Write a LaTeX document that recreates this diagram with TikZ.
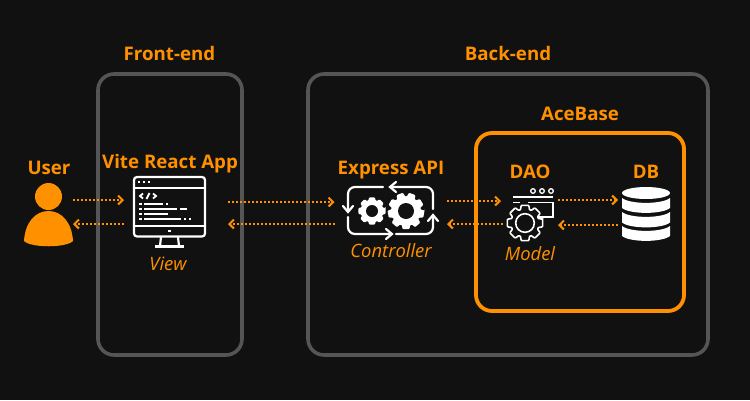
\documentclass[tikz,border=0pt]{standalone}
\usepackage{fontspec}
\setmainfont{Open Sans}
\usetikzlibrary{arrows.meta}
\definecolor{bgc}{HTML}{111111}
\definecolor{org}{HTML}{FF9100}
\definecolor{frm}{HTML}{555555}
\newcommand{\gearpts}[4]{% outer, inner, teeth count, rotation
  ({#4-0.27*360/#3}:#1)
  \foreach \gi in {1,...,#3}{
    -- ({#4+(\gi-1)*360/#3+0.27*360/#3}:#1)
    -- ({#4+(\gi-1)*360/#3+0.42*360/#3}:#2)
    -- ({#4+(\gi-1)*360/#3+0.58*360/#3}:#2)
    -- ({#4+\gi*360/#3-0.27*360/#3}:#1)
  } -- cycle
}
\tikzset{
  x=1pt,y=-1pt,
  frame/.style={draw=frm,line width=3.6pt,rounded corners=16pt},
  ace/.style={draw=org,line width=3.8pt,rounded corners=16pt},
  title/.style={text=org,font=\fontsize{18.7}{22}\selectfont\bfseries,inner sep=0pt},
  role/.style={text=org,font=\fontsize{18.4}{22}\selectfont\itshape,inner sep=0pt},
  icon/.style={inner sep=0pt,outer sep=0pt},
  flow/.style={draw=org,line width=2pt,dash pattern=on 2pt off 2pt,
    -{Straight Barb[length=4.5pt,width=9pt,line width=2pt,color=org]}},
  wline2/.style={draw=white,line width=2.2pt,line cap=round,rounded corners=7pt},
}
\begin{document}
\begin{tikzpicture}
\useasboundingbox (0,0) rectangle (750,400);
\fill[bgc] (0,0) rectangle (750,400);
% frames
\draw[frame] (98,74) rectangle (242,355);
\draw[frame] (308,74) rectangle (708,355);
\draw[ace] (476,133) rectangle (684,311);
% titles
\node[title] (tfront) at (169.5,53) {Front-end};
\node[title] (tback) at (508,53) {Back-end};
\node[title] (tace) at (580,114) {AceBase};
\node[title] (tuser) at (49,168) {User};
\node[title] (tvite) at (170,164) {Vite React App};
\node[title] (texpr) at (391,170) {Express API};
\node[title] (tdao) at (530,172) {DAO};
\node[title] (tdb) at (646,172) {DB};
\node[role] (rview) at (168,264) {View};
\node[role] (rctrl) at (391,251) {Controller};
\node[role] (rmodel) at (530,254) {Model};
% icon anchors
\node[icon,minimum width=49pt,minimum height=1pt] (user) at (48.5,212) {};
\node[icon,minimum width=73pt,minimum height=1pt] (view) at (169.5,212) {};
\node[icon,minimum width=87pt,minimum height=1pt] (ctrl) at (391,212) {};
\node[icon,minimum width=42pt,minimum height=1pt] (dao) at (533,212) {};
\node[icon,minimum width=48pt,minimum height=1pt] (db) at (646,212) {};
% user
\fill[org] (48.5,196.5) circle (13.5);
\fill[org] (24,241) .. controls (25,223) and (35,211) .. (48.5,211) .. controls (62,211) and (72,223) .. (73,241)
  .. controls (66,248) and (31,248) .. (24,241) -- cycle;
% monitor
\draw[white,line width=2.2pt,rounded corners=3pt] (134,177) rectangle (205,236.5);
\draw[white,line width=2.2pt] (134,188) -- (205,188) (134,226) -- (205,226);
\draw[white,line width=2.2pt] (161,237) -- (160,246) (178,237) -- (179,246);
\draw[white,line width=2.4pt] (155,246.5) -- (184,246.5);
\foreach \xx in {139,144,149} \fill[white] (\xx-1.4,180.6) rectangle (\xx+1.4,183.4);
\fill[white] (168,229.6) rectangle (171,232.4);
\draw[white,line width=1.8pt] (143,193.5) -- (140,196) -- (143,198.5) (153,193.5) -- (156,196) -- (153,198.5) (149.5,193) -- (146.5,199);
\foreach \yy in {204,209,214,219} \fill[white] (139,\yy-1.3) rectangle (141.8,\yy+1.3);
\draw[white,line width=2pt] (144,204) -- (163,204) (144,209) -- (177,209) (180,209) -- (187,209) (144,214) -- (168,214) (144,219) -- (181,219);
\foreach \xx/\yy in {167/204,185/219,190/219} \fill[white] (\xx-1.4,\yy-1.3) rectangle (\xx+1.4,\yy+1.3);
% controller loop
\draw[wline2] (383,187) -- (348,187) -- (348,211);
\draw[wline2,rounded corners=0pt] (343,206) -- (348,212) -- (353,206);
\draw[wline2,rounded corners=0pt] (396,182) -- (390,187) -- (396,192);
\draw[wline2] (390,187) -- (433,187) -- (433,209);
\draw[wline2] (348,217) -- (348,234) -- (391,234);
\draw[wline2,rounded corners=0pt] (386,229) -- (392,234) -- (386,239);
\draw[wline2] (396,234) -- (433,234) -- (433,216);
\draw[wline2,rounded corners=0pt] (428,221) -- (433,215) -- (438,221);
% gears
\begin{scope}[shift={(372,211)}]
  \fill[white,rounded corners=1pt] \gearpts{14}{11}{8}{0};
  \fill[bgc] (0,0) circle (6);
\end{scope}
\begin{scope}[shift={(406,211)}]
  \fill[white,rounded corners=1pt] \gearpts{18.5}{14.5}{9}{10};
  \fill[bgc] (0,0) circle (8);
\end{scope}
% DAO icon
\draw[white,line width=1.6pt] (513,197) -- (553,197);
\foreach \xx in {533,542,551} \draw[white,line width=1.3pt] (\xx,191) circle (2.3);
\draw[white,line width=1.6pt] (513,202.5) -- (520,202.5) (528,202.5) -- (553,202.5) -- (553,217) -- (538,217);
\begin{scope}[shift={(525,223)}]
  \draw[white,line width=1.6pt,fill=bgc,rounded corners=0.7pt] \gearpts{18}{14}{8}{0};
  \draw[white,line width=1.6pt] (0,0) circle (9.3);
\end{scope}
% DB
\fill[white] (646,193) ellipse (24 and 6);
\foreach \ta/\tb in {198/208,212/222.5,226/236}{
  \fill[white] (622,\ta) .. controls (630,\ta+6.5) and (662,\ta+6.5) .. (670,\ta)
    -- (670,\tb) .. controls (662,\tb+6.5) and (630,\tb+6.5) .. (622,\tb) -- cycle;
}
% connectors
\draw[flow] ([yshift=12pt]user.east) -- ([xshift=-9pt,yshift=12pt]view.west);
\draw[flow] ([xshift=-9pt,yshift=-12pt]view.west) -- ([yshift=-12pt]user.east);
\draw[flow] ([xshift=22pt,yshift=10pt]view.east) -- ([xshift=-13pt,yshift=10pt]ctrl.west);
\draw[flow] ([xshift=-13pt,yshift=-12pt]ctrl.west) -- ([xshift=22pt,yshift=-12pt]view.east);
\draw[flow] ([xshift=12.5pt,yshift=11pt]ctrl.east) -- ([xshift=-11pt,yshift=11pt]dao.west);
\draw[flow] ([xshift=-9pt,yshift=-12pt]dao.west) -- ([xshift=12.5pt,yshift=-12pt]ctrl.east);
\draw[flow] ([xshift=4pt,yshift=12pt]dao.east) -- ([xshift=-4pt,yshift=12pt]db.west);
\draw[flow] ([xshift=-4pt,yshift=-13pt]db.west) -- ([xshift=4pt,yshift=-13pt]dao.east);
\end{tikzpicture}
\end{document}
